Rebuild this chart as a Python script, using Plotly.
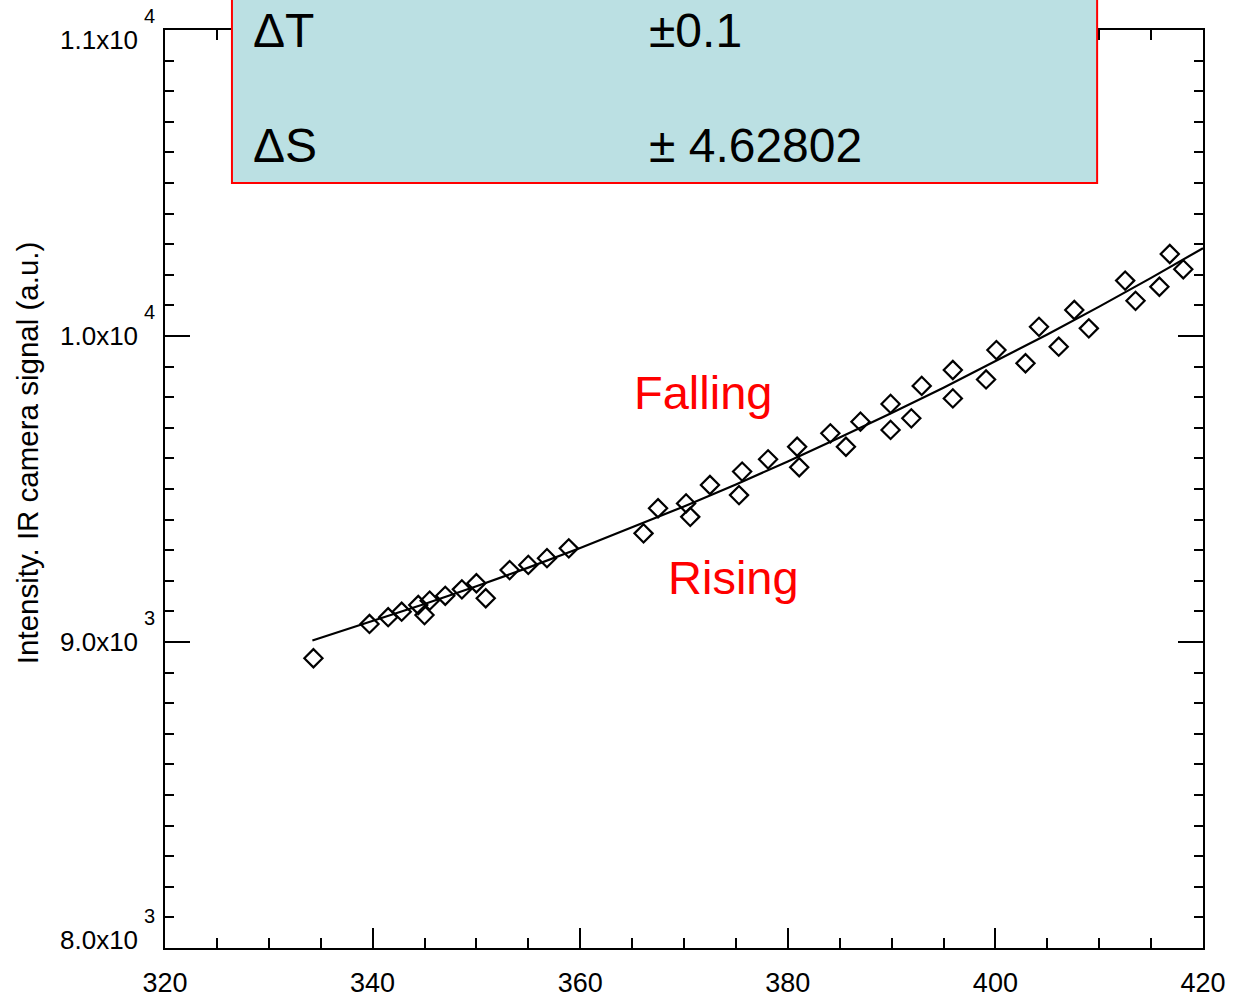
import plotly.graph_objects as go

# Measured points (diamonds)
pts_x = [334.3, 339.7, 341.5, 342.8, 344.4, 345.0, 345.5, 347.0, 348.6, 350.0,
         350.9, 353.2, 355.0, 356.8, 358.9, 366.1, 367.5, 370.2, 370.6, 372.5,
         375.6, 375.3, 378.1, 380.9, 381.1, 384.1, 385.6, 387.0, 389.9, 389.9,
         391.9, 392.9, 395.9, 395.9, 399.1, 400.1, 402.9, 404.2, 406.1, 407.6,
         409.0, 412.5, 413.5, 415.8, 416.8, 418.1]
pts_y = [8947, 9059, 9081, 9099, 9121, 9088, 9135, 9151, 9172, 9192,
         9143, 9235, 9252, 9274, 9306, 9355, 9437, 9453, 9409, 9513,
         9557, 9480, 9597, 9638, 9571, 9682, 9638, 9720, 9778, 9693,
         9731, 9837, 9889, 9796, 9858, 9954, 9911, 10030, 9965, 10085,
         10025, 10181, 10115, 10161, 10268, 10218]

# Fit line
fit_x = [334.2, 340, 345, 350, 355, 360, 365, 370, 375, 380,
         385, 390, 395, 400, 405, 410, 415, 420]
fit_y = [9005, 9068, 9124, 9182, 9243, 9307, 9374, 9443, 9515, 9590,
         9668, 9748, 9831, 9917, 10005, 10096, 10190, 10287]

x_ticks = [320, 340, 360, 380, 400, 420]
y_ticks = [8000, 9000, 10000, 11000]
y_mantissa = ["8.0x10", "9.0x10", "1.0x10", "1.1x10"]
y_exponent = ["3", "3", "4", "4"]
y_label_shift = [8, 0, 0, -10]

FONT = "Liberation Sans, Arial, sans-serif"

fig = go.Figure()
fig.add_trace(go.Scatter(x=fit_x, y=fit_y, mode="lines",
                         line=dict(color="black", width=2.2), showlegend=False))
fig.add_trace(go.Scatter(x=pts_x, y=pts_y, mode="markers",
                         marker=dict(symbol="diamond-open", size=14, color="black",
                                     line=dict(color="black", width=2.2)),
                         showlegend=False))

annotations = [
    dict(text="ΔT", xref="paper", yref="paper", x=0.0838, y=1.0,
         xanchor="left", yanchor="middle", showarrow=False, borderpad=0,
         font=dict(size=48, family=FONT, color="black")),
    dict(text="±0.1", xref="paper", yref="paper", x=0.4653, y=1.0,
         xanchor="left", yanchor="middle", showarrow=False, borderpad=0,
         font=dict(size=48, family=FONT, color="black")),
    dict(text="ΔS", xref="paper", yref="paper", x=0.0838, y=0.8747,
         xanchor="left", yanchor="middle", showarrow=False, borderpad=0,
         font=dict(size=48, family=FONT, color="black")),
    dict(text="± 4.62802", xref="paper", yref="paper", x=0.4653, y=0.8747,
         xanchor="left", yanchor="middle", showarrow=False, borderpad=0,
         font=dict(size=48, family=FONT, color="black")),
    dict(text="Falling", x=371.8, y=9817, xref="x", yref="y",
         showarrow=False, font=dict(size=47, family=FONT, color="red")),
    dict(text="Rising", x=374.8, y=9212, xref="x", yref="y",
         showarrow=False, font=dict(size=47, family=FONT, color="red")),
    dict(text="Intensity. IR camera signal (a.u.)", xref="paper", yref="paper",
         x=-0.133, y=0.539, textangle=-90, showarrow=False,
         xanchor="center", yanchor="middle",
         font=dict(size=29.5, family=FONT, color="black")),
]

for val, man, ex, sh in zip(y_ticks, y_mantissa, y_exponent, y_label_shift):
    annotations.append(dict(text=man, xref="paper", yref="y", x=-0.0255, y=val,
                            xanchor="right", yanchor="middle", yshift=sh,
                            showarrow=False, borderpad=0,
                            font=dict(size=26, family=FONT, color="black")))
    annotations.append(dict(text=ex, xref="paper", yref="y", x=-0.0212, y=val,
                            xanchor="left", yanchor="middle", yshift=sh + 24.5,
                            showarrow=False, borderpad=0,
                            font=dict(size=20, family=FONT, color="black")))

fig.update_layout(
    width=1238, height=998, autosize=False,
    margin=dict(l=165, r=35, t=30, b=50),
    paper_bgcolor="white", plot_bgcolor="white",
    font=dict(family=FONT, color="black"),
    xaxis=dict(range=[320, 420], tickvals=x_ticks, ticks="inside", ticklen=20,
               tickwidth=2, tickcolor="black", showline=True, linewidth=2,
               linecolor="black", mirror="ticks", showgrid=False, zeroline=False,
               tickfont=dict(size=27, family=FONT), ticklabelstandoff=10,
               automargin=False,
               minor=dict(dtick=5, ticks="inside", ticklen=10, tickwidth=2,
                          tickcolor="black", showgrid=False)),
    yaxis=dict(range=[8000, 11000], tickvals=y_ticks, showticklabels=False,
               ticks="inside", ticklen=25, tickwidth=2, tickcolor="black",
               showline=True, linewidth=2, linecolor="black", mirror="ticks",
               showgrid=False, zeroline=False, automargin=False,
               minor=dict(dtick=100, ticks="inside", ticklen=9, tickwidth=2,
                          tickcolor="black", showgrid=False)),
    shapes=[dict(type="rect", xref="paper", yref="paper",
                 x0=0.0645, x1=0.898, y0=0.8333, y1=1.06,
                 fillcolor="#BBE0E3", line=dict(color="red", width=2),
                 layer="above")],
    annotations=annotations,
)

fig.write_html("out.html")
